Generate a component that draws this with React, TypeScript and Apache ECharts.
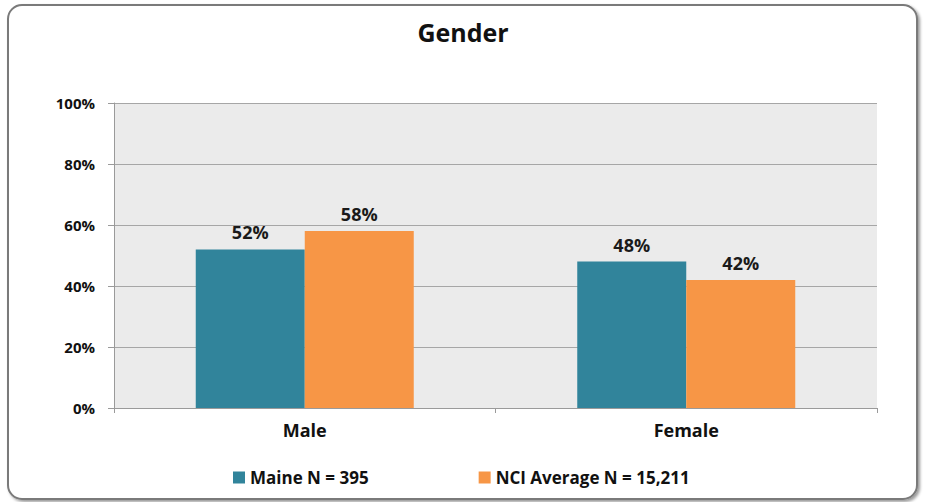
import React, { useEffect, useRef } from "react";
import * as echarts from "echarts";

const categories = ["Male", "Female"];
const maineValues = [52, 48];
const nciValues = [58, 42];
const yTicks = [0, 20, 40, 60, 80, 100];
const seriesNames = ["Maine N = 395", "NCI Average N = 15,211"];

const FONT = "'Open Sans', 'Liberation Sans', sans-serif";

export default function App() {
  const ref = useRef<HTMLDivElement>(null);
  useEffect(() => {
    document.body.style.margin = "0";
    const chart = echarts.init(ref.current!, null, { renderer: "svg" });
    const labelStyle = {
      show: true,
      position: "top" as const,
      distance: 8,
      formatter: "{c}%",
      fontFamily: FONT,
      fontWeight: "bold" as const,
      fontSize: 18,
      color: "#1a1a1a",
    };
    chart.setOption({
      animation: false,
      backgroundColor: "transparent",
      textStyle: { fontFamily: FONT },
      graphic: [
        {
          type: "rect",
          z: -10,
          silent: true,
          shape: { x: 8, y: 5, width: 909, height: 494, r: 14 },
          style: {
            fill: "#ffffff",
            stroke: "#7a7a7a",
            lineWidth: 2,
            shadowBlur: 3,
            shadowOffsetX: 2,
            shadowOffsetY: 2,
            shadowColor: "rgba(0,0,0,0.4)",
          },
        },
      ],
      title: {
        text: "Gender",
        left: "center",
        top: 14,
        textStyle: {
          fontFamily: FONT,
          fontWeight: "bold",
          fontSize: 25,
          color: "#111",
        },
      },
      legend: {
        data: seriesNames,
        top: 464,
        left: 228,
        itemGap: 110,
        itemWidth: 12,
        itemHeight: 12,
        icon: "rect",
        textStyle: {
          fontFamily: FONT,
          fontWeight: "bold",
          fontSize: 17,
          color: "#111",
        },
      },
      grid: {
        left: 114,
        right: 49,
        top: 103,
        bottom: 94,
        show: true,
        backgroundColor: "#EBEBEB",
        borderWidth: 0,
      },
      xAxis: {
        type: "category",
        data: categories,
        axisLine: { lineStyle: { color: "#9a9a9a", width: 1 } },
        axisTick: { show: true, length: 5, lineStyle: { color: "#9a9a9a" } },
        axisLabel: {
          fontFamily: FONT,
          fontWeight: "bold",
          fontSize: 18,
          color: "#111",
          margin: 13,
        },
      },
      yAxis: {
        type: "value",
        min: yTicks[0],
        max: yTicks[yTicks.length - 1],
        interval: 20,
        axisLine: { show: true, lineStyle: { color: "#9a9a9a", width: 1 } },
        axisTick: { show: true, length: 6, lineStyle: { color: "#9a9a9a" } },
        splitLine: { lineStyle: { color: "#a6a6a6", width: 1 } },
        axisLabel: {
          formatter: "{value}%",
          fontFamily: FONT,
          fontWeight: "bold",
          fontSize: 15,
          color: "#111",
          margin: 19,
        },
      },
      series: [
        {
          name: seriesNames[0],
          type: "bar",
          data: maineValues,
          barWidth: 109,
          barGap: "0%",
          itemStyle: { color: "#31849B" },
          label: labelStyle,
        },
        {
          name: seriesNames[1],
          type: "bar",
          data: nciValues,
          barWidth: 109,
          barGap: "0%",
          itemStyle: { color: "#F79646" },
          label: labelStyle,
        },
      ],
    });
    return () => chart.dispose();
  }, []);
  return (
    <div
      ref={ref}
      style={{ position: "absolute", left: 0, top: 0, width: 926, height: 502 }}
    />
  );
}
